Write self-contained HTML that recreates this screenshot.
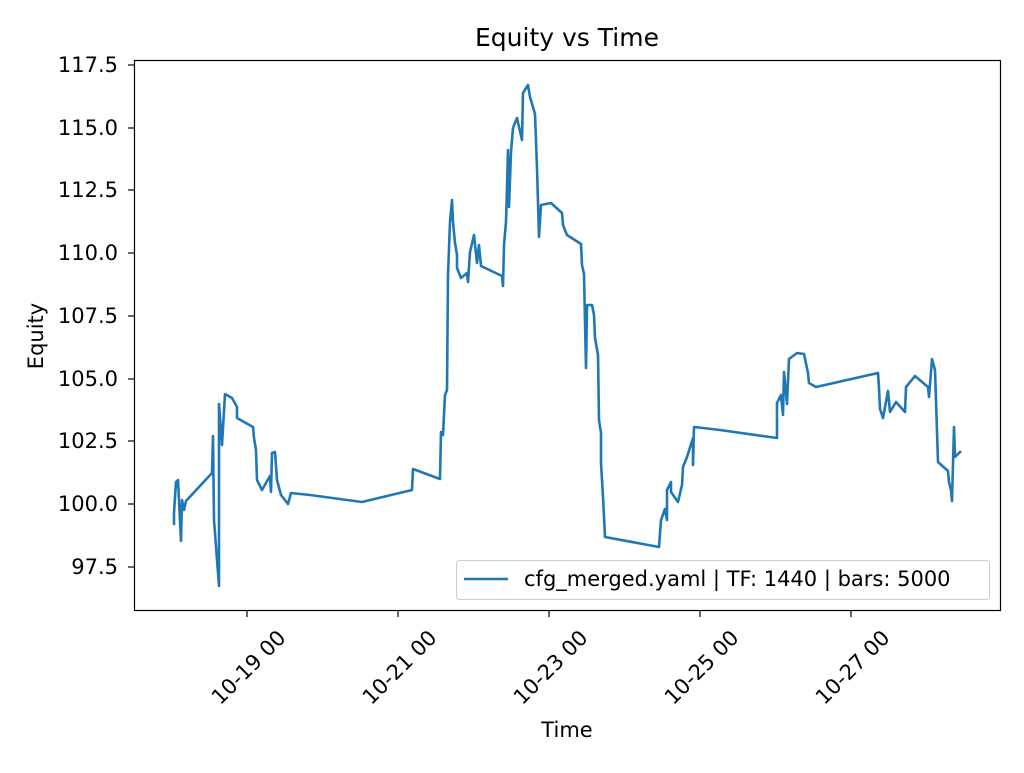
<!DOCTYPE html>
<html><head><meta charset="utf-8"><style>body{margin:0;background:#fff}</style></head>
<body>
<svg width="1024" height="768" xmlns="http://www.w3.org/2000/svg" font-family="DejaVu Sans, Liberation Sans, sans-serif">
<rect width="1024" height="768" fill="#fff"/>
<text x="567" y="46" font-size="25" text-anchor="middle">Equity vs Time</text>
<polyline fill="none" stroke="#1f77b4" stroke-width="2.6" stroke-linejoin="round" points="174,525 174,513 176,482 178,480 181,541 182,500 184,510 186,501 212,473 213,436 214,520 219,586 219,404 222,445 225,394 232,398 237,407 237,418 253,427 254,438 256,450 257,480 262,490 270,476 271,492 272,453 275,452 277,480 281,495 288,504 291,493 310,495 362,502 412,490 413,469 440,479 441,432 443,435 445,395 447,390 448,275 450,222 452,200 453,222 455,243 457,255 457,268 461,278 467,273 468,282 470,252 474,235 477,263 479,245 481,266 502,276 503,286 504,245 506,222 507,188 508,150 509,207 511,152 513,128 517,118 522,140 523,93 528,85 530,97 535,114 537,168 539,237 541,205 551,203 562,213 563,225 567,235 581,244 582,265 584,274 586,368 587,305 592,305 594,315 595,338 598,355 599,420 601,433 601,463 603,497 605,537 659,547 661,520 665,509 667,520 667,490 671,482 671,492 678,502 682,485 683,467 687,457 693,438 693,465 694,427 720,430 777,438 777,403 781,395 783,415 784,372 787,404 789,359 797,353 804,354 808,373 809,383 816,387 878,373 879,388 880,409 883,418 888,391 890,412 896,402 905,412 906,387 915,376 928,387 929,397 932,359 935,370 938,462 948,471 949,482 951,490 952,501 954,427 955,457 961,451"/>
<rect x="134.5" y="60.5" width="866" height="550" fill="none" stroke="#000" stroke-width="1.2"/>
<g stroke="#000" stroke-width="1.2">
<line x1="128" x2="134" y1="65" y2="65"/><line x1="128" x2="134" y1="128" y2="128"/><line x1="128" x2="134" y1="190" y2="190"/><line x1="128" x2="134" y1="253" y2="253"/><line x1="128" x2="134" y1="316" y2="316"/><line x1="128" x2="134" y1="379" y2="379"/><line x1="128" x2="134" y1="441" y2="441"/><line x1="128" x2="134" y1="504" y2="504"/><line x1="128" x2="134" y1="567" y2="567"/>
<line x1="247" x2="247" y1="611" y2="617"/><line x1="398" x2="398" y1="611" y2="617"/><line x1="549" x2="549" y1="611" y2="617"/><line x1="700" x2="700" y1="611" y2="617"/><line x1="851" x2="851" y1="611" y2="617"/>
</g>
<g font-size="21" text-anchor="end">
<text x="118" y="72">117.5</text><text x="118" y="135">115.0</text><text x="118" y="197">112.5</text><text x="118" y="260">110.0</text><text x="118" y="323">107.5</text><text x="118" y="386">105.0</text><text x="118" y="448">102.5</text><text x="118" y="511">100.0</text><text x="118" y="574">97.5</text>
</g>
<g font-size="21" text-anchor="end">
<text transform="translate(287,639) rotate(-45)">10-19 00</text>
<text transform="translate(438,639) rotate(-45)">10-21 00</text>
<text transform="translate(589,639) rotate(-45)">10-23 00</text>
<text transform="translate(740,639) rotate(-45)">10-25 00</text>
<text transform="translate(891,639) rotate(-45)">10-27 00</text>
</g>
<text x="567" y="737" font-size="21" text-anchor="middle">Time</text>
<text transform="translate(43,336) rotate(-90)" font-size="21" text-anchor="middle">Equity</text>
<rect x="456.5" y="560.5" width="533" height="39" rx="3" fill="#fff" stroke="#ccc"/>
<line x1="464" x2="508" y1="579" y2="579" stroke="#1f77b4" stroke-width="2.6"/>
<text x="524" y="586" font-size="21">cfg_merged.yaml | TF: 1440 | bars: 5000</text>
</svg>
</body></html>
